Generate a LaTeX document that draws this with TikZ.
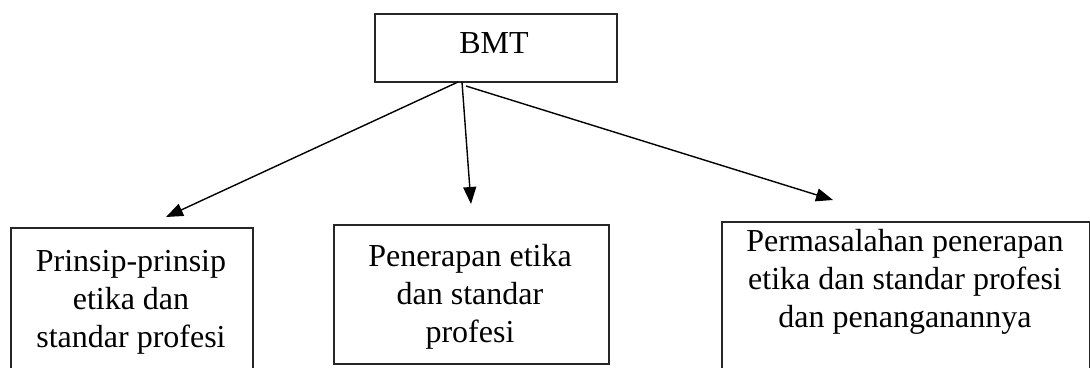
\documentclass[tikz,border=0pt]{standalone}
\usepackage{fontspec}
\setmainfont{Liberation Serif}
\usetikzlibrary{arrows.meta}
\begin{document}
\begin{tikzpicture}[x=1pt,y=-1pt,
  box/.style={draw=black!85,line width=1.6pt,rectangle,inner sep=0pt,anchor=north west},
  lbl/.style={align=center,anchor=base,inner sep=0pt,font=\fontsize{32}{38}\selectfont},
  arr/.style={line width=1.4pt,-{Triangle[length=17pt,width=13pt]}}]
\useasboundingbox (0,0) rectangle (1090,367);
\clip (0,0) rectangle (1090,367);
% boxes
\node[box,minimum width=242pt,minimum height=68pt] (bmt) at (374,13) {};
\node[lbl] (bmtt) at (494,53) {BMT};
\node[box,minimum width=242pt,minimum height=170pt] (lb) at (10,227) {};
\node[lbl] (lbt) at (131,347) {Prinsip-prinsip\\etika dan\\standar profesi};
\node[box,minimum width=275pt,minimum height=139pt] (mb) at (333,224) {};
\node[lbl] (mbt) at (470,342) {Penerapan etika\\dan standar\\profesi};
\node[box,minimum width=368pt,minimum height=170pt] (rb) at (721,221) {};
\node[lbl] (rbt) at (905,327) {Permasalahan penerapan\\etika dan standar profesi\\dan penanganannya};
% connector end points
\coordinate (s1) at (458,82);
\coordinate (s2) at (462,82);
\coordinate (s3) at (466,86);
\coordinate (t1) at (166,217);
\coordinate (t2) at (471,204);
\coordinate (t3) at (833,200);
\draw[arr] (s1) -- (t1);
\draw[arr] (s2) -- (t2);
\draw[arr] (s3) -- (t3);
\end{tikzpicture}
\end{document}
